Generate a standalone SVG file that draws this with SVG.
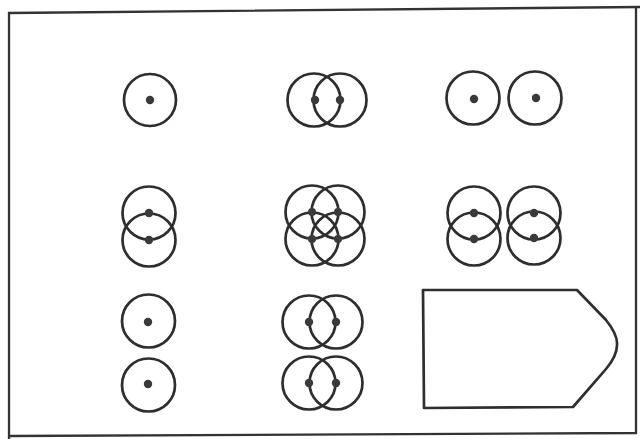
<svg xmlns="http://www.w3.org/2000/svg" width="640" height="439" viewBox="0 0 640 439">
<style>
.c{fill:none;stroke:#2e2e2e;stroke-width:2.7}
.d{fill:#3a3a3a}
.f{fill:none;stroke:#333;stroke-width:2.3}
.s{fill:none;stroke:#2e2e2e;stroke-width:2.7;stroke-linejoin:round}
</style>
<rect width="640" height="439" fill="#fff"/>
<g id="frame">
<path class="f" d="M9,439 L9,13 L640,7"/>
<path class="f" d="M636,8 L636,433 L9,436"/>
</g>
<g id="cell-1-1">
<circle class="c" cx="150" cy="100" r="26"/>
<circle class="d" cx="150" cy="100" r="4.2"/>
</g>
<g id="cell-1-2">
<circle class="c" cx="314" cy="100" r="26.5"/>
<circle class="c" cx="340" cy="100" r="26.5"/>
<circle class="d" cx="315" cy="100" r="4.2"/>
<circle class="d" cx="340" cy="100" r="4.2"/>
</g>
<g id="cell-1-3">
<circle class="c" cx="473" cy="98" r="26.5"/>
<circle class="c" cx="535" cy="98" r="26.5"/>
<circle class="d" cx="474" cy="99" r="4.2"/>
<circle class="d" cx="536" cy="98" r="4.2"/>
</g>
<g id="cell-2-1">
<circle class="c" cx="149" cy="213" r="26.5"/>
<circle class="c" cx="149" cy="240" r="26.5"/>
<circle class="d" cx="149" cy="213" r="4.2"/>
<circle class="d" cx="149" cy="240" r="4.2"/>
</g>
<g id="cell-2-2">
<circle class="c" cx="312" cy="212" r="26.5"/>
<circle class="c" cx="338" cy="212" r="26.5"/>
<circle class="c" cx="312" cy="239" r="26.5"/>
<circle class="c" cx="338" cy="239" r="26.5"/>
<circle class="d" cx="312" cy="212" r="4"/>
<circle class="d" cx="338" cy="212" r="4"/>
<circle class="d" cx="312" cy="239" r="4"/>
<circle class="d" cx="338" cy="239" r="4"/>
</g>
<g id="cell-2-3">
<circle class="c" cx="474" cy="213" r="26.5"/>
<circle class="c" cx="474" cy="239" r="26.5"/>
<circle class="c" cx="534" cy="213" r="26.5"/>
<circle class="c" cx="534" cy="238" r="26.5"/>
<circle class="d" cx="474" cy="213" r="4.2"/>
<circle class="d" cx="474" cy="239" r="4.2"/>
<circle class="d" cx="534" cy="213" r="4.2"/>
<circle class="d" cx="534" cy="238" r="4.2"/>
</g>
<g id="cell-3-1">
<circle class="c" cx="148.5" cy="321" r="26.5"/>
<circle class="c" cx="148.5" cy="385" r="26.5"/>
<circle class="d" cx="148" cy="322" r="4.2"/>
<circle class="d" cx="148" cy="384" r="4.2"/>
</g>
<g id="cell-3-2">
<circle class="c" cx="309" cy="322" r="26.5"/>
<circle class="c" cx="336" cy="322" r="26.5"/>
<circle class="c" cx="309" cy="383" r="26.5"/>
<circle class="c" cx="336" cy="383" r="26.5"/>
<circle class="d" cx="309" cy="322" r="4.2"/>
<circle class="d" cx="336" cy="322" r="4.2"/>
<circle class="d" cx="309" cy="383" r="4.2"/>
<circle class="d" cx="336" cy="383" r="4.2"/>
</g>
<g id="cell-3-3">
<path class="s" d="M423,290 L577,290 L606,320 Q618,335 617,345 Q617,356 606,369 L573,407 L424,408 Z"/>
</g>
</svg>
